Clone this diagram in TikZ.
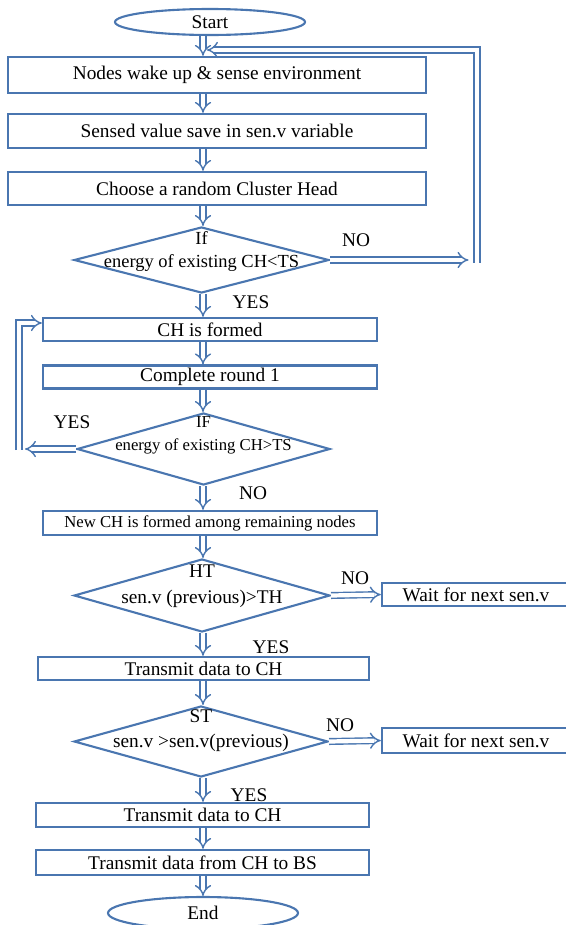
\documentclass[tikz,border=0pt]{standalone}
\usepackage{fontspec}
\setmainfont{Liberation Serif}
\usetikzlibrary{shapes.geometric, arrows.meta}
\definecolor{flow-blue}{HTML}{4A76B0}

\begin{document}
\begin{tikzpicture}[every node/.style={font=\fontsize{11}{13}\selectfont},
      procbox/.style={draw=flow-blue, line width=1.3pt, fill=white, inner sep=0pt},
      decision/.style={draw=flow-blue, line width=1.2pt, diamond, inner sep=0pt},
      terminal/.style={draw=flow-blue, line width=1.2pt, ellipse, inner sep=0pt},
      flow/.style={draw=flow-blue, line width=0.8pt, double=white,
                   double distance=2.4pt, -{Implies}},
      lbl/.style={inner sep=0pt}]
    \useasboundingbox (0,0) rectangle (11.32,-18.50);
    \coordinate (spine) at (4.06,0);

    % main column
    \node[terminal, minimum width=3.8cm, minimum height=0.52cm] (start) at (4.20,-0.44) {Start};
    \node[procbox, minimum width=8.36cm, minimum height=0.72cm] (b1) at (4.34,-1.50) {Nodes wake up \& sense environment};
    \node[procbox, minimum width=8.36cm, minimum height=0.68cm] (b2) at (4.34,-2.62) {Sensed value save in sen.v variable};
    \node[procbox, minimum width=8.36cm, minimum height=0.66cm] (b3) at (4.34,-3.77) {Choose a random Cluster Head};
    \node[decision, minimum width=5.10cm, minimum height=1.32cm] (d1) at (4.03,-5.20) {};
    \node[align=center, font=\fontsize{10.5}{13}\selectfont] (d1t) at (4.03,-5.03) {If\\energy of existing CH<TS};
    \node[procbox, minimum width=6.68cm, minimum height=0.46cm] (b4) at (4.20,-6.59) {CH is formed};
    \node[procbox, minimum width=6.68cm, minimum height=0.46cm] (b5) at (4.20,-7.54) {Complete round 1};
    \node[decision, minimum width=5.06cm, minimum height=1.44cm] (d2) at (4.07,-8.98) {};
    \node[align=center, font=\fontsize{9.5}{13}\selectfont] (d2t) at (4.07,-8.71) {IF\\energy of existing CH>TS};
    \node[procbox, minimum width=6.68cm, minimum height=0.48cm,
          font=\fontsize{9.5}{11}\selectfont] (b6) at (4.20,-10.46) {New CH is formed among remaining nodes};
    \node[decision, minimum width=5.12cm, minimum height=1.46cm] (d3) at (4.04,-11.91) {};
    \node[align=center, font=\fontsize{11}{15}\selectfont] (d3t) at (4.04,-11.73) {HT\\sen.v (previous)>TH};
    \node[procbox, minimum width=6.62cm, minimum height=0.46cm] (t1) at (4.07,-13.37) {Transmit data to CH};
    \node[decision, minimum width=5.08cm, minimum height=1.42cm] (d4) at (4.02,-14.83) {};
    \node[align=center, font=\fontsize{11}{14}\selectfont] (d4t) at (4.02,-14.61) {ST\\sen.v >sen.v(previous)};
    \node[procbox, minimum width=6.66cm, minimum height=0.48cm] (t2) at (4.05,-16.30) {Transmit data to CH};
    \node[procbox, minimum width=6.66cm, minimum height=0.50cm] (t3) at (4.05,-17.25) {Transmit data from CH to BS};
    \node[terminal, minimum width=3.8cm, minimum height=0.64cm] (stop) at (4.06,-18.26) {End};

    % side boxes
    \node[procbox, minimum width=3.76cm, minimum height=0.46cm] (w1) at (9.52,-11.89) {Wait for next sen.v};
    \node[procbox, minimum width=3.76cm, minimum height=0.50cm] (w2) at (9.52,-14.81) {Wait for next sen.v};

    % branch labels
    \node[lbl] (no1) at (7.12,-4.80) {NO};
    \node[lbl] (yes1) at (5.02,-6.04) {YES};
    \node[lbl] (yes2) at (1.44,-8.44) {YES};
    \node[lbl] (no2) at (5.06,-9.86) {NO};
    \node[lbl] (no3) at (7.10,-11.56) {NO};
    \node[lbl] (yes3) at (5.42,-12.94) {YES};
    \node[lbl] (no4) at (6.80,-14.50) {NO};
    \node[lbl] (yes4) at (4.98,-15.90) {YES};

    \foreach \a/\b in {start/b1, b1/b2, b2/b3, b3/d1, d1/b4, b4/b5, b5/d2,
                       d2/b6, b6/d3, d3/t1, t1/d4, d4/t2, t2/t3, t3/stop}
      \draw[flow] (\a.south -| spine) -- (\b.north -| spine);

    % NO loop back to the top
    \coordinate (loopx) at (9.37,0);
    \coordinate (loopbot) at (9.54,-5.25);
    \coordinate (loopin) at (4.14,-1.00);
    \draw[flow] (d1.east) -- (d1.east -| loopx);
    \draw[flow] (loopbot) |- (loopin);

    % YES loop back to CH is formed
    \coordinate (yesx) at (0.50,0);
    \coordinate (yesbot) at (0.38,-9.00);
    \draw[flow] (d2.west) -- (d2.west -| yesx);
    \draw[flow] (yesbot) |- ([yshift=0.13cm]b4.west);

    \draw[flow] (d3.east) -- (w1.west);
    \draw[flow] (d4.east) -- (w2.west);
\end{tikzpicture}
\end{document}
